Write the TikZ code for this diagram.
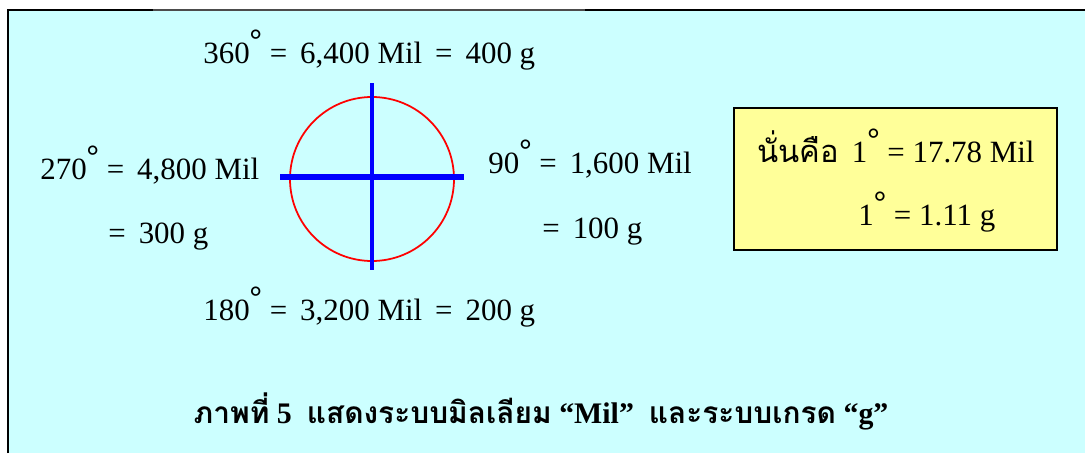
\documentclass[tikz,border=0pt]{standalone}
\usepackage{fontspec}
\setmainfont{Liberation Serif}
\newfontfamily\thaifont[Script=Thai]{Loma}
\usepackage{xcolor}
\usepackage{tikz}
\usetikzlibrary{positioning}

\definecolor{bgcyan}{HTML}{CCFFFF}
\definecolor{boxyellow}{HTML}{FFFF99}
\newcommand{\dgr}{\raisebox{0.42em}{\textbf{°}}}
\newcommand{\gap}{\hspace{0.42em}}

\begin{document}
\begin{tikzpicture}[x=0.02cm, y=-0.02cm,
    every node/.style={inner sep=0pt, font=\fontsize{17.6}{22}\selectfont},
    val/.style={anchor=base west}]
      \useasboundingbox (0,0) rectangle (1085,453);
      \fill[white] (0,0) rectangle (1085,453);
      \fill[bgcyan] (8,10) rectangle (1085,453);
      \draw[line width=1.4pt] (8,453) -- (8,10) -- (153,10);
      \draw[black!70, line width=0.9pt] (153,10) -- (585,10);
      \draw[line width=1.4pt] (585,10) -- (1085,10);

      % circle and cross
      \draw[red, line width=1pt] (372,179) circle[radius=82];
      \draw[blue, line width=2.3pt] (372,83) -- (372,270);
      \draw[blue, line width=3.4pt] (280,177) -- (464,177);

      \node[val] (deg360) at (203,63) {360\dgr\ =\gap 6,400 Mil\gap =\gap 400 g};
      \node[val] (deg270) at (40,179) {270\dgr\ =\gap 4,800 Mil};
      \node[val] (grad300) at (108,243) {=\gap 300 g};
      \node[val] (deg90) at (488,173) {90\dgr\ =\gap 1,600 Mil};
      \node[val] (grad100) at (542,238) {=\gap 100 g};
      \node[val] (deg180) at (203,320) {180\dgr\ =\gap 3,200 Mil\gap =\gap 200 g};

      % result box
      \draw[fill=boxyellow, line width=1.3pt] (734,108) rectangle (1057,250);
      \node[val] (resmil) at (757,162) {{\thaifont นั่นคือ}\gap 1\dgr\ = 17.78 Mil};
      \node[val] (resgrad) at (858,225) {1\dgr\ = 1.11 g};

      \node[anchor=base, font=\fontsize{17}{22}\selectfont] (caption) at (541,423) {\bfseries{\thaifont ภาพที่} 5 \ {\thaifont แสดงระบบมิลเลียม} “Mil” \ {\thaifont และระบบเกรด} “g”};
    \end{tikzpicture}
\end{document}
